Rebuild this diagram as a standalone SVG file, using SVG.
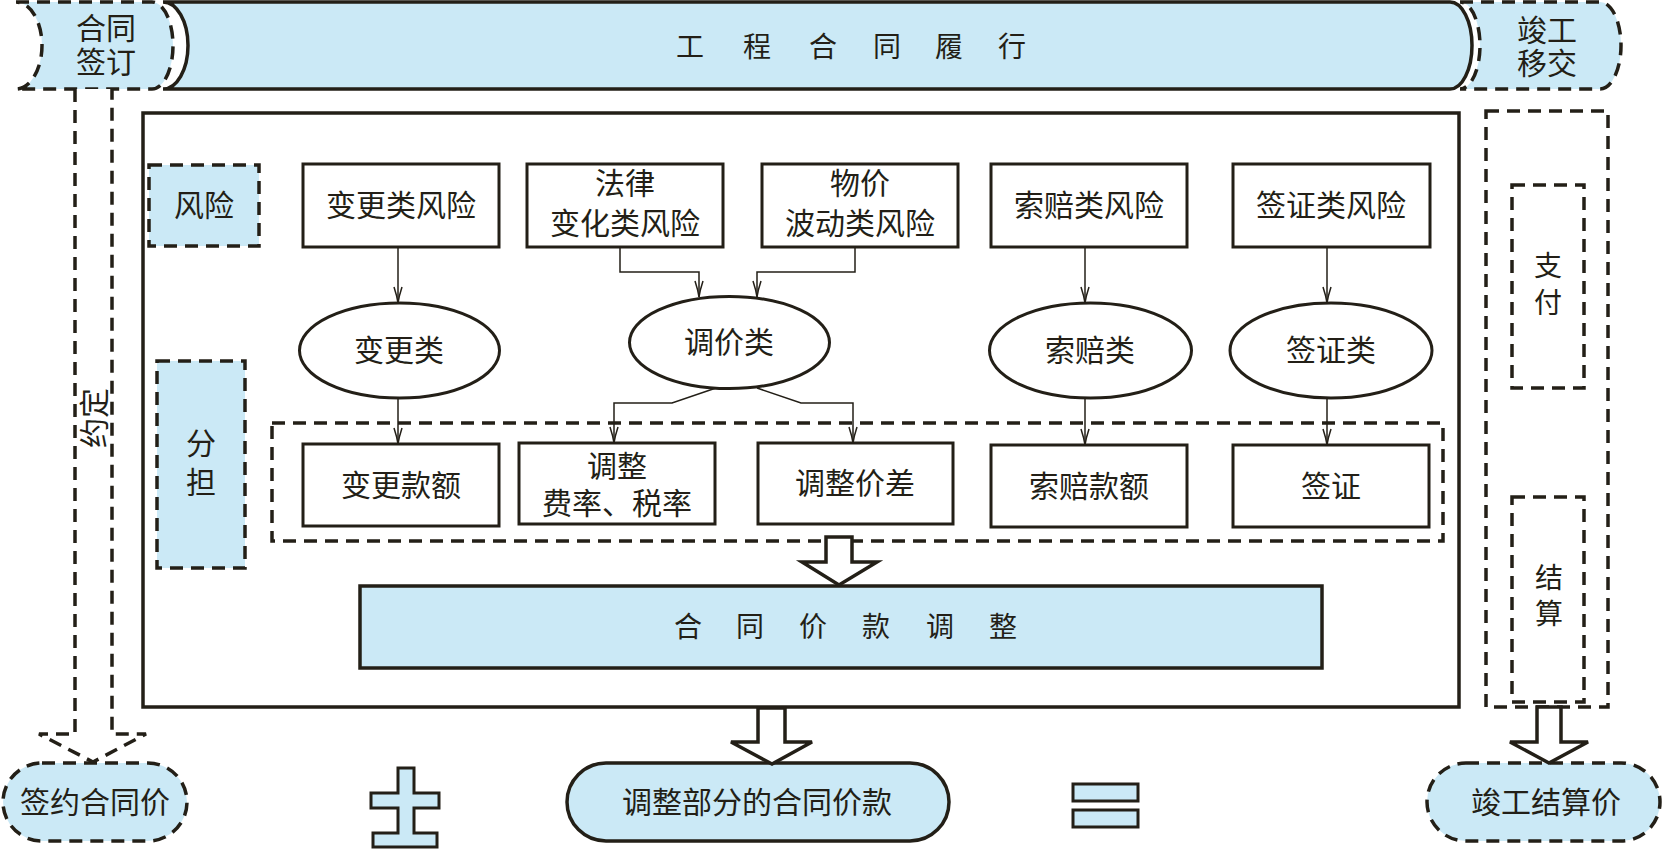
<svg xmlns="http://www.w3.org/2000/svg" width="1665" height="849" viewBox="0 0 1665 849">
<style>
.bg{fill:#ffffff}
.blue{fill:#cbe9f6}
.dash{stroke:#231f17;stroke-width:3.5;stroke-dasharray:13 8}
.solid{stroke:#231f17;stroke-width:3.5}
.box{fill:#ffffff;stroke:#231f17;stroke-width:3}
.ell{fill:#ffffff;stroke:#231f17;stroke-width:3}
.conn{fill:none;stroke:#231f17;stroke-width:1.5}
.blk{fill:#ffffff;stroke:#231f17;stroke-width:3.5;stroke-linejoin:miter}
.t{font-family:"Liberation Serif","Noto Sans CJK SC",serif;font-size:30px;fill:#231f17;text-anchor:middle;dominant-baseline:central}
.ts{font-size:28px}
</style>
<defs>
<marker id="arr" markerUnits="userSpaceOnUse" markerWidth="22" markerHeight="14" viewBox="-20 -7 22 14" refX="0" refY="0" orient="auto">
<path d="M-16,-4 Q-7,-1 0,0 Q-7,1 -16,4" fill="none" stroke="#231f17" stroke-width="1.5"/>
</marker>
</defs>
<rect class="bg" x="0" y="0" width="1665" height="849"/>

<!-- top row -->
<g id="hetong-qianding">
<path class="blue dash" d="M16,2 H152 A21,43.5 0 0 1 152,89 H16 A26,43.5 0 0 0 16,2 Z"/>
<text class="t"><tspan x="106" y="28">合同</tspan><tspan x="106" y="62">签订</tspan></text>
</g>
<g id="gongcheng-lvxing">
<path class="blue solid" d="M163,2 H1450 A22,43.5 0 0 1 1450,89 H163 A25,43.5 0 0 0 163,2 Z"/>
<text class="t ts" x="690 757 823 887 949 1012" y="47">工程合同履行</text>
</g>
<g id="jungong-yijiao">
<path class="blue dash" d="M1460,2 H1600 A21,43.5 0 0 1 1600,89 H1460 A20,43.5 0 0 0 1460,2 Z"/>
<text class="t"><tspan x="1547" y="30">竣工</tspan><tspan x="1547" y="63">移交</tspan></text>
</g>

<!-- main frame -->
<g id="main-frame">
<rect x="143" y="113" width="1316" height="594" fill="none" class="solid"/>
</g>

<g id="fengxian">
<rect class="blue dash" x="149" y="165" width="110" height="81"/>
<text class="t" x="204" y="205">风险</text>
</g>
<g id="fendan">
<rect class="blue dash" x="157" y="361" width="88" height="207"/>
<text class="t"><tspan x="201" y="443">分</tspan><tspan x="201" y="482">担</tspan></text>
</g>

<!-- row 1 -->
<g id="biangeng-fengxian">
<rect class="box" x="303" y="164" width="196" height="83"/>
<text class="t" x="401" y="205">变更类风险</text>
</g>
<g id="falv-fengxian">
<rect class="box" x="527" y="164" width="196" height="83"/>
<text class="t"><tspan x="625" y="183">法律</tspan><tspan x="625" y="223">变化类风险</tspan></text>
</g>
<g id="wujia-fengxian">
<rect class="box" x="762" y="164" width="196" height="83"/>
<text class="t"><tspan x="860" y="183">物价</tspan><tspan x="860" y="223">波动类风险</tspan></text>
</g>
<g id="suopei-fengxian">
<rect class="box" x="991" y="164" width="196" height="83"/>
<text class="t" x="1089" y="205">索赔类风险</text>
</g>
<g id="qianzheng-fengxian">
<rect class="box" x="1233" y="164" width="197" height="83"/>
<text class="t" x="1331" y="205">签证类风险</text>
</g>

<!-- row 2 ellipses -->
<g id="biangeng-lei">
<ellipse class="ell" cx="399.5" cy="350.5" rx="100" ry="47.5"/>
<text class="t" x="399" y="350">变更类</text>
</g>
<g id="tiaojia-lei">
<ellipse class="ell" cx="729.5" cy="342.5" rx="100" ry="46"/>
<text class="t" x="729" y="342">调价类</text>
</g>
<g id="suopei-lei">
<ellipse class="ell" cx="1090.5" cy="350.5" rx="101" ry="47.5"/>
<text class="t" x="1090" y="350">索赔类</text>
</g>
<g id="qianzheng-lei">
<ellipse class="ell" cx="1331" cy="350.5" rx="101" ry="47.5"/>
<text class="t" x="1331" y="350">签证类</text>
</g>

<!-- row 3 dashed group -->
<g id="tiaozheng-group">
<rect x="272" y="423" width="1171" height="118" fill="none" class="dash"/>
</g>
<g id="biangeng-kuane">
<rect class="box" x="303" y="444" width="196" height="82"/>
<text class="t" x="401" y="485">变更款额</text>
</g>
<g id="tiaozheng-feilv">
<rect class="box" x="519" y="443" width="196" height="81"/>
<text class="t"><tspan x="617" y="466">调整</tspan><tspan x="617" y="503">费率、税率</tspan></text>
</g>
<g id="tiaozheng-jiacha">
<rect class="box" x="758" y="443" width="195" height="81"/>
<text class="t" x="855" y="483">调整价差</text>
</g>
<g id="suopei-kuane">
<rect class="box" x="991" y="445" width="196" height="82"/>
<text class="t" x="1089" y="486">索赔款额</text>
</g>
<g id="qianzheng">
<rect class="box" x="1233" y="445" width="196" height="82"/>
<text class="t" x="1331" y="486">签证</text>
</g>

<!-- contract price adjustment bar -->
<g id="hetong-jiakuan-tiaozheng">
<rect class="blue solid" x="360" y="586" width="962" height="82"/>
<text class="t ts" x="688 750 813 876 940 1003" y="627">合同价款调整</text>
</g>

<!-- right column -->
<g id="right-column">
<rect x="1486" y="111" width="122" height="596" fill="none" class="dash"/>
</g>
<g id="zhifu">
<rect x="1512" y="185" width="72" height="203" fill="none" class="dash"/>
<text class="t ts"><tspan x="1548" y="266">支</tspan><tspan x="1548" y="303">付</tspan></text>
</g>
<g id="jiesuan">
<rect x="1512" y="497" width="72" height="205" fill="none" class="dash"/>
<text class="t ts"><tspan x="1549" y="578">结</tspan><tspan x="1549" y="614">算</tspan></text>
</g>

<!-- bottom row -->
<g id="qianyue-hetongjia">
<rect class="blue dash" x="3" y="763" width="184" height="78" rx="39" ry="39"/>
<text class="t" x="95" y="802">签约合同价</text>
</g>
<g id="plus-minus">
<path class="blue" stroke="#231f17" stroke-width="3" d="M398,768 H414 V793 H439 V808 H414 V833 H437 V847 H373 V833 H398 V808 H371 V793 H398 Z"/>
</g>
<g id="tiaozheng-bufen">
<rect class="blue solid" x="567" y="763" width="382" height="78" rx="39" ry="39"/>
<text class="t" x="757" y="802">调整部分的合同价款</text>
</g>
<g id="equals">
<rect class="blue" stroke="#231f17" stroke-width="3" x="1073" y="784" width="65" height="17"/>
<rect class="blue" stroke="#231f17" stroke-width="3" x="1073" y="810" width="65" height="17"/>
</g>
<g id="jungong-jiesuanjia">
<rect class="blue dash" x="1427" y="763" width="233" height="78" rx="39" ry="39"/>
<text class="t" x="1546" y="802">竣工结算价</text>
</g>

<!-- connectors -->
<g id="connectors">
<path class="conn" d="M398,247 V303" marker-end="url(#arr)"/>
<path class="conn" d="M398,398 V444" marker-end="url(#arr)"/>
<path class="conn" d="M620,247 V272 H699 V297" marker-end="url(#arr)"/>
<path class="conn" d="M855,247 V272 H757 V297" marker-end="url(#arr)"/>
<path class="conn" d="M716,388 L672,403 H614 V443" marker-end="url(#arr)"/>
<path class="conn" d="M757,388 L801,403 H853 V443" marker-end="url(#arr)"/>
<path class="conn" d="M1085,247 V303" marker-end="url(#arr)"/>
<path class="conn" d="M1085,398 V445" marker-end="url(#arr)"/>
<path class="conn" d="M1327,247 V303" marker-end="url(#arr)"/>
<path class="conn" d="M1327,398 V445" marker-end="url(#arr)"/>
<!-- agreement dashed arrow -->
<path fill="#ffffff" class="dash" d="M75,89 V734 H39 L93,762 L146,734 H112 V89"/>
<text class="t" x="0" y="0" transform="translate(94,418) rotate(-90)">约定</text>
<!-- block arrows -->
<path class="blk" d="M826,537 H852 V562 H877 L839,585 L802,562 H826 Z"/>
<path class="blk" d="M758,708 H785 V742 H812 L772,764 L731,742 H758 Z"/>
<path class="blk" d="M1537,707 H1561 V742 H1588 L1549,763 L1510,742 H1537 Z"/>
</g>
</svg>
